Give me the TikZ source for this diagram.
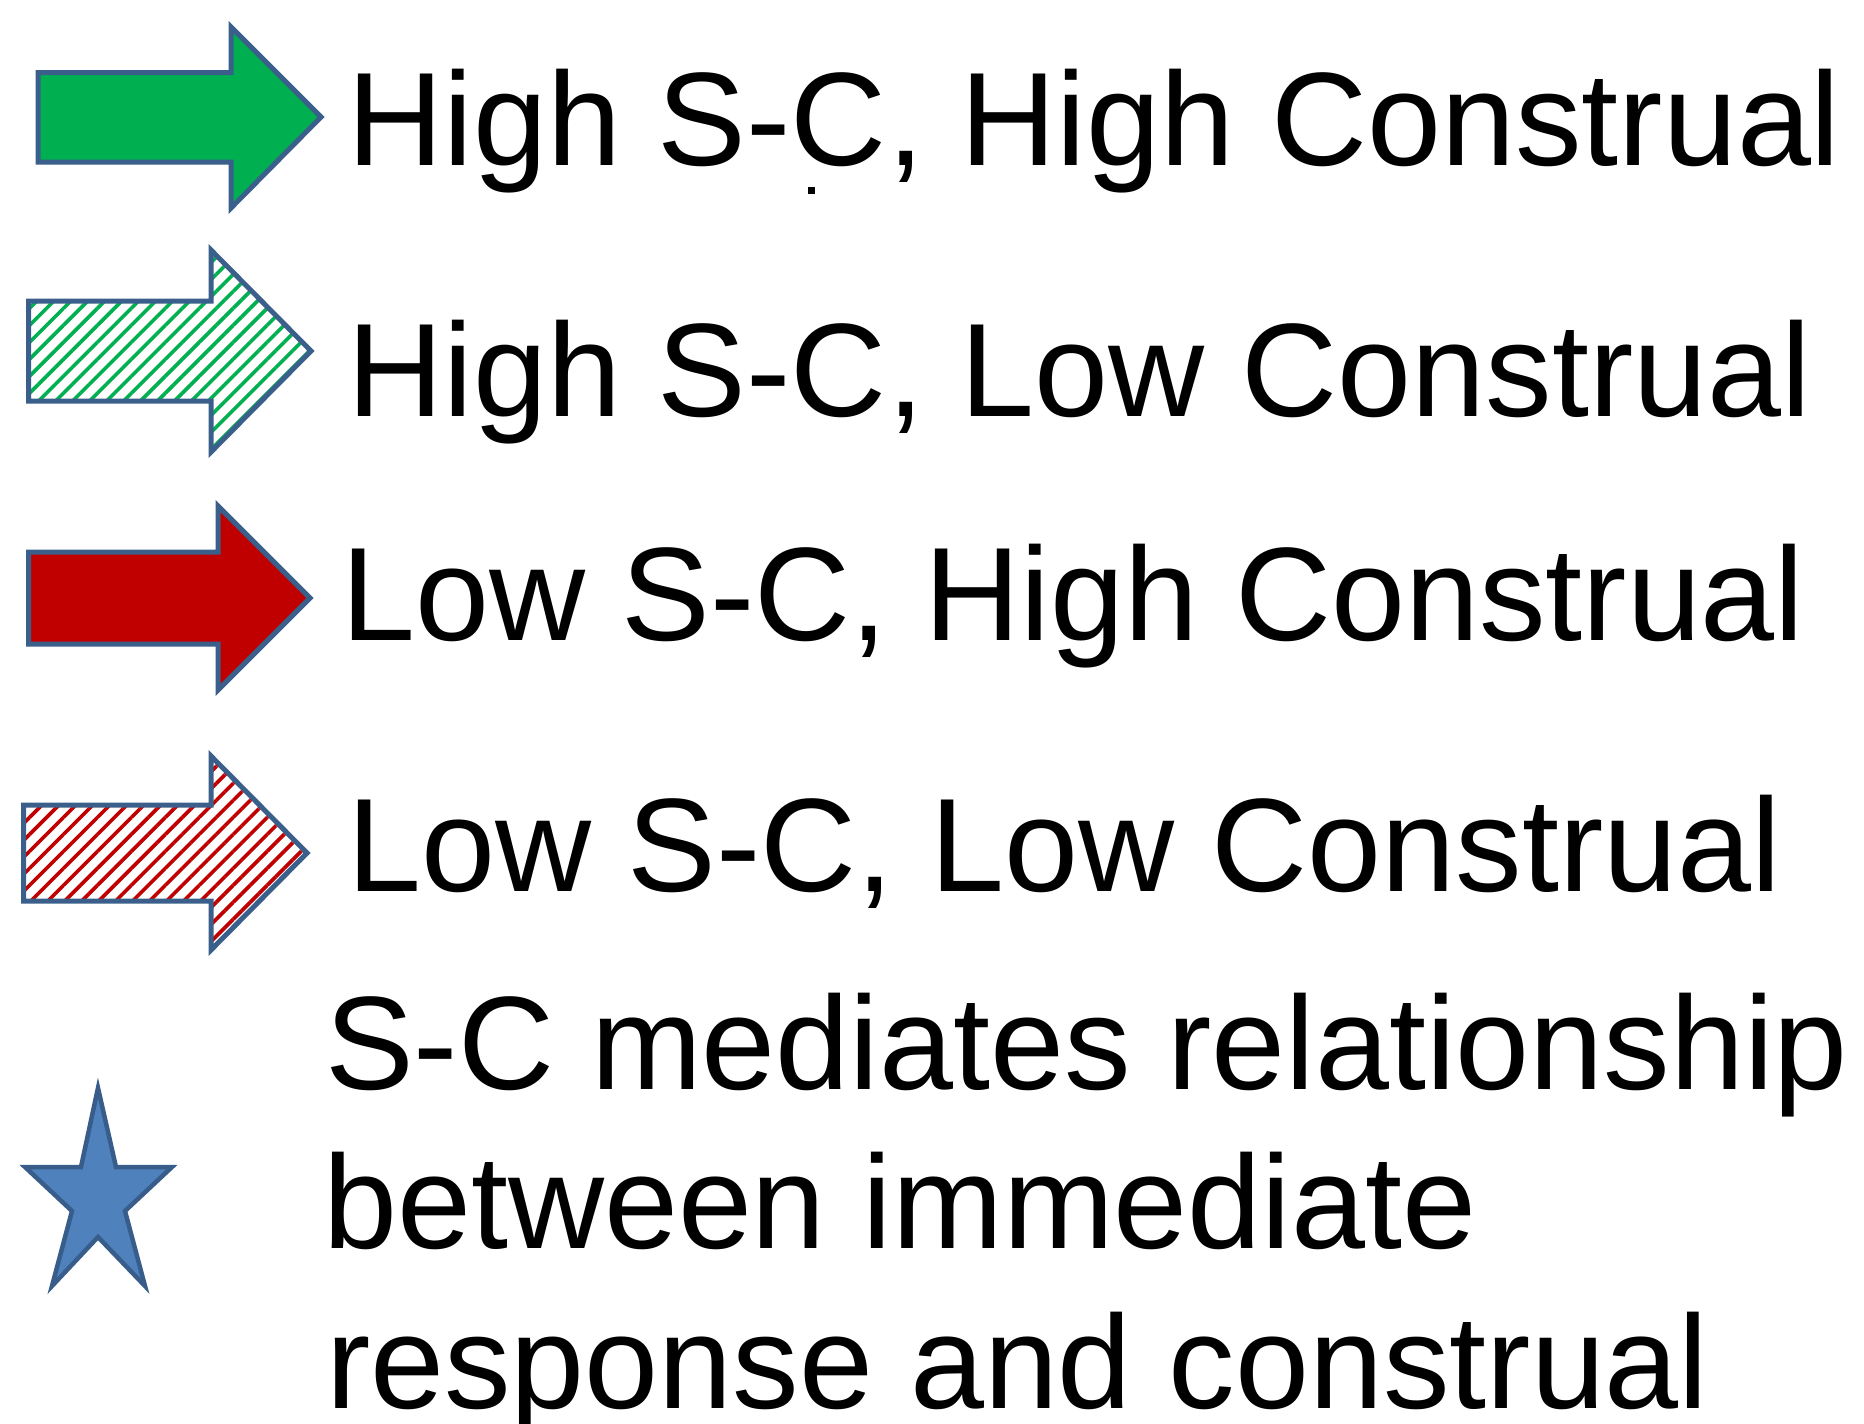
\documentclass[tikz,border=0pt]{standalone}
\usepackage{fontspec}
\setmainfont{Liberation Sans}
\usetikzlibrary{patterns.meta}
\definecolor{hiGreen}{HTML}{00B050}
\definecolor{loRed}{HTML}{C00000}
\definecolor{edgeBlue}{HTML}{3A5F8B}
\definecolor{starBlue}{HTML}{4F81BD}
\definecolor{starEdge}{HTML}{385D8A}
\tikzset{
  arrowshape/.style={draw=edgeBlue, line width=5pt, line join=miter},
  solidfill/.style={arrowshape, fill=#1},
  hatchfill/.style={arrowshape, fill=white,
    pattern={Lines[angle=45, distance=12pt, line width=3.6pt]}, pattern color=#1},
  legendtext/.style={anchor=base west, inner sep=0pt, font=\fontsize{133}{160}\selectfont},
}
\begin{document}
\begin{tikzpicture}[x=1pt, y=-1pt]
  \useasboundingbox (0,0) rectangle (1864,1424);
  \clip (0,0) rectangle (1864,1424);

  % solid green arrow
  \draw[solidfill=hiGreen] (38,72.5) -- (231,72.5) -- (231,27) -- (321,117)
    -- (231,208) -- (231,162) -- (38,162) -- cycle;
  % hatched green arrow
  \draw[hatchfill=hiGreen] (28.5,301) -- (211,301) -- (211,250) -- (311,351)
    -- (211,452) -- (211,401) -- (28.5,401) -- cycle;
  % solid red arrow
  \draw[solidfill=loRed] (28.5,552) -- (218,552) -- (218,506) -- (310,598)
    -- (218,690) -- (218,644) -- (28.5,644) -- cycle;
  % hatched red arrow
  \draw[hatchfill=loRed] (23.5,805) -- (211,805) -- (211,756) -- (307,853)
    -- (211,950) -- (211,901) -- (23.5,901) -- cycle;

  % star marker
  \draw[fill=starBlue, draw=starEdge, line width=4.5pt, line join=miter]
    (98,1088) -- (116,1167) -- (172,1167) -- (125,1211) -- (145,1286)
    -- (98,1237) -- (52,1286) -- (72,1211) -- (25,1167) -- (81,1167) -- cycle;

  % stray mark under the first label
  \fill (808,187) rectangle (815,194);

  % labels
  \node[legendtext] (t1) at (347.5,165) {High S-C, High Construal};
  \node[legendtext] (t2) at (347.5,416) {High S-C, Low Construal};
  \node[legendtext] (t3) at (341,640) {Low S-C, High Construal};
  \node[legendtext] (t4) at (347,891.5) {Low S-C, Low Construal};
  \node[legendtext] (t5) at (325,1089) {S-C mediates relationship};
  \node[legendtext] (t6) at (323,1248) {between immediate};
  \node[legendtext] (t7) at (326,1408) {response and construal};
\end{tikzpicture}
\end{document}
